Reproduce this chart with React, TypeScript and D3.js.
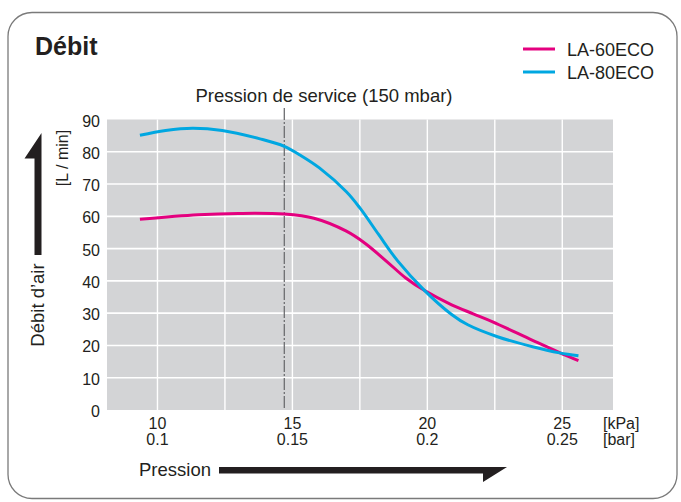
import React, { useEffect, useRef } from 'react'
import * as d3 from 'd3'

// pressure in kPa, flow in L/min
const la60: [number, number][] = [
    [9.35, 59.1], [11.5, 60.5], [13.0, 60.9], [14.7, 60.7], [15.8, 59.4],
    [17.0, 55.4], [17.7, 51.6], [18.5, 46.0], [19.2, 40.9], [19.9, 37.0],
    [20.9, 32.6], [21.7, 29.8], [22.4, 27.4], [23.9, 21.6], [24.9, 17.8],
    [25.6, 15.3]
]
const la80: [number, number][] = [
    [9.35, 85.1], [10.3, 86.6], [11.3, 87.3], [12.4, 86.6], [13.8, 84.0],
    [14.7, 81.7], [15.3, 78.9], [16.0, 75.0], [17.0, 67.6], [17.5, 62.6],
    [18.2, 54.3], [18.9, 46.2], [19.9, 37.0], [20.9, 29.6], [21.5, 26.4],
    [22.6, 22.7], [23.9, 19.6], [24.9, 17.7], [25.6, 16.8]
]
const series = [
    { name: 'LA-60ECO', color: '#e4007f', data: la60 },
    { name: 'LA-80ECO', color: '#00a7e1', data: la80 }
]
const yTicks = [0, 10, 20, 30, 40, 50, 60, 70, 80, 90]
const xGrid = [10, 12.5, 15, 17.5, 20, 22.5, 25]
const xTicks = [10, 15, 20, 25]
const barLabels = ['0.1', '0.15', '0.2', '0.25']
const servicePressure = 14.7

const FONT = "'Liberation Sans', Arial, Helvetica, sans-serif"

const App: React.FC = () => {
    const ref = useRef<any>()
    useEffect(() => {
        const svg = d3.select(ref.current)
        svg.selectAll('*').remove()

        const x = d3.scaleLinear().domain([8.13, 26.88]).range([107, 613])
        const y = d3.scaleLinear().domain([0, 90]).range([410, 119.5])

        // frame
        svg.append('rect')
            .attr('x', 8).attr('y', 12.5)
            .attr('width', 669).attr('height', 486)
            .attr('rx', 24)
            .attr('fill', 'white')
            .attr('stroke', '#7a7a7a')
            .attr('stroke-width', 1.3)

        svg.append('text')
            .attr('x', 35).attr('y', 55)
            .attr('font-size', 25).attr('font-weight', 'bold')
            .attr('fill', '#231f20')
            .text('Débit')

        // legend
        const leg = svg.append('g')
        series.forEach((s, i) => {
            const ly = 49 + i * 23
            leg.append('line')
                .attr('x1', 523).attr('x2', 555)
                .attr('y1', ly).attr('y2', ly)
                .attr('stroke', s.color).attr('stroke-width', 3)
            leg.append('text')
                .attr('x', 567).attr('y', ly + 7)
                .attr('font-size', 18).attr('fill', '#231f20')
                .text(s.name)
        })

        // plot background + grid
        svg.append('rect')
            .attr('x', x.range()[0]).attr('y', y(90))
            .attr('width', x.range()[1] - x.range()[0])
            .attr('height', y(0) - y(90))
            .attr('fill', '#d3d4d6')

        svg.append('g')
            .selectAll('line')
            .data(yTicks.filter((d) => d > 0 && d < 90))
            .join('line')
            .attr('x1', x.range()[0]).attr('x2', x.range()[1])
            .attr('y1', (d) => y(d)).attr('y2', (d) => y(d))
            .attr('stroke', 'white').attr('stroke-width', 1.6)

        svg.append('g')
            .selectAll('line')
            .data(xGrid)
            .join('line')
            .attr('x1', (d) => x(d)).attr('x2', (d) => x(d))
            .attr('y1', y(90)).attr('y2', y(0))
            .attr('stroke', 'white').attr('stroke-width', 1.4)

        // service pressure marker
        svg.append('line')
            .attr('x1', x(servicePressure)).attr('x2', x(servicePressure))
            .attr('y1', 108).attr('y2', y(0))
            .attr('stroke', '#6d6e71').attr('stroke-width', 1.3)
            .attr('stroke-dasharray', '12,2,2,2')

        svg.append('text')
            .attr('x', 324).attr('y', 101.5)
            .attr('text-anchor', 'middle')
            .attr('font-size', 18.5).attr('fill', '#231f20')
            .text('Pression de service (150 mbar)')

        // y tick labels
        svg.append('g')
            .selectAll('text')
            .data(yTicks)
            .join('text')
            .attr('x', 100)
            .attr('y', (d) => y(d) + 7)
            .attr('text-anchor', 'end')
            .attr('font-size', 16).attr('fill', '#231f20')
            .text((d) => d)

        // x tick labels
        const xl = svg.append('g').attr('font-size', 16).attr('fill', '#231f20')
        xl.selectAll('text.kpa')
            .data(xTicks)
            .join('text')
            .attr('class', 'kpa')
            .attr('x', (d) => x(d)).attr('y', 428.5)
            .attr('text-anchor', 'middle')
            .text((d) => d)
        xl.selectAll('text.bar')
            .data(xTicks)
            .join('text')
            .attr('class', 'bar')
            .attr('x', (d) => x(d)).attr('y', 445)
            .attr('text-anchor', 'middle')
            .text((d, i) => barLabels[i])
        xl.append('text').attr('x', 603).attr('y', 428.5).text('[kPa]')
        xl.append('text').attr('x', 603).attr('y', 445).text('[bar]')

        // curves
        const line = d3
            .line<[number, number]>()
            .curve(d3.curveCatmullRom.alpha(0.5))
            .x((d) => x(d[0]))
            .y((d) => y(d[1]))
        svg.append('g')
            .selectAll('path')
            .data(series)
            .join('path')
            .attr('fill', 'none')
            .attr('stroke', (d) => d.color)
            .attr('stroke-width', 3)
            .attr('d', (d) => line(d.data))

        // axis titles with arrows
        svg.append('text')
            .attr('transform', 'translate(44,305) rotate(-90)')
            .attr('text-anchor', 'middle')
            .attr('font-size', 18.5).attr('fill', '#231f20')
            .text('Débit d’air')
        svg.append('path')
            .attr('d', 'M34.5,255 L41.5,255 L41.5,133 L24.5,158.5 L34.5,158.5 Z')
            .attr('fill', '#231f20')

        svg.append('text')
            .attr('transform', 'translate(68,158) rotate(-90)')
            .attr('text-anchor', 'middle')
            .attr('font-size', 16).attr('fill', '#231f20')
            .text('[L / min]')

        svg.append('text')
            .attr('x', 139).attr('y', 475.5)
            .attr('font-size', 18.5).attr('fill', '#231f20')
            .text('Pression')
        svg.append('path')
            .attr('d', 'M219,467 L507,467 L483,482 L483,473.5 L219,473.5 Z')
            .attr('fill', '#231f20')
    }, [])
    return (
        <svg
            ref={ref}
            width={681}
            height={502}
            style={{ position: 'absolute', left: 0, top: 0, fontFamily: FONT }}
        ></svg>
    )
}

export default App
